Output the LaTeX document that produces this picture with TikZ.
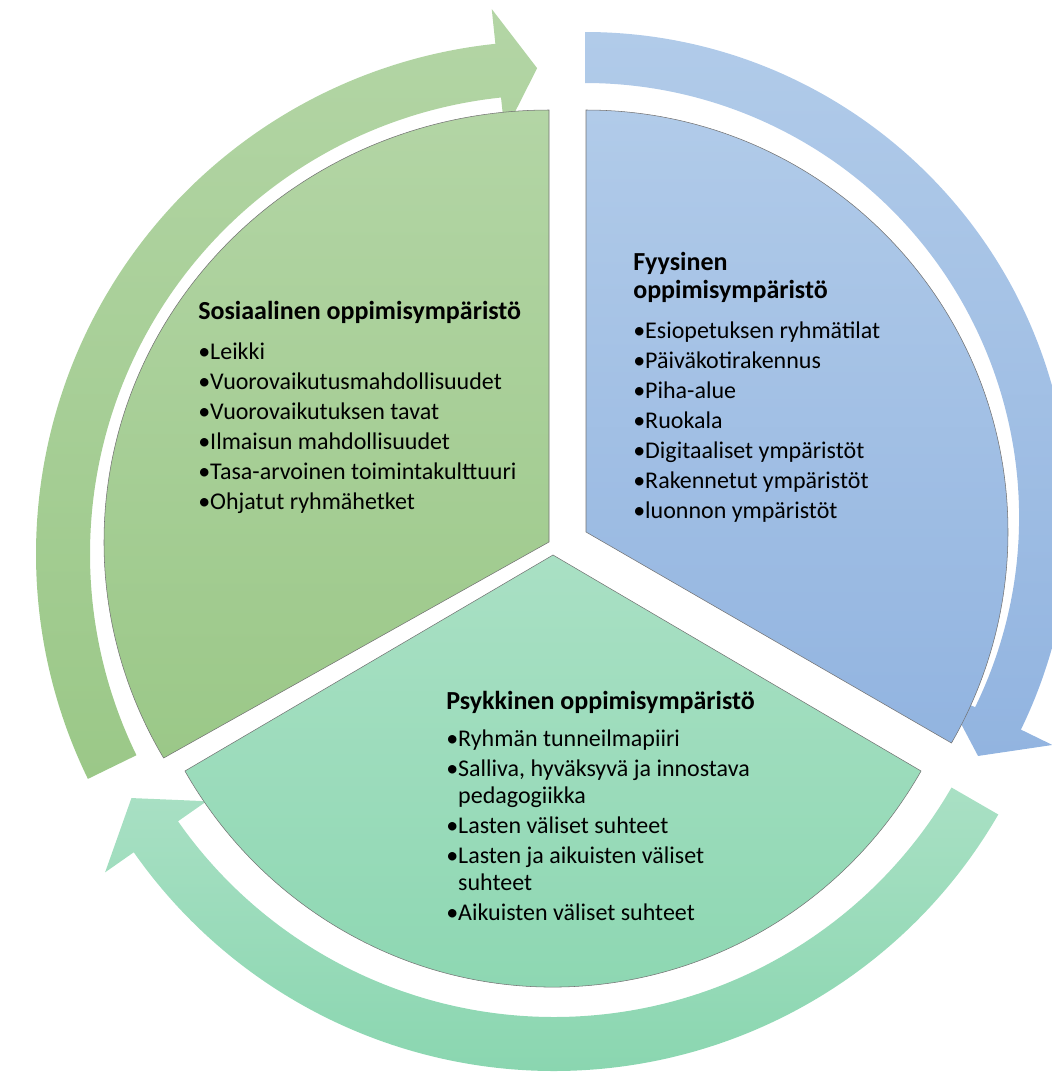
\documentclass[tikz,border=0pt]{standalone}
\usepackage{fontspec}
\setmainfont{Carlito}
\usetikzlibrary{positioning}

\definecolor{sosTop}{HTML}{B3D5A5}
\definecolor{sosBot}{HTML}{9BC888}
\definecolor{fyyTop}{HTML}{B1CBE9}
\definecolor{fyyBot}{HTML}{92B4E0}
\definecolor{psyTop}{HTML}{A9E0C4}
\definecolor{psyBot}{HTML}{8AD6B0}

\newcommand{\heading}[1]{{\fontsize{19.5pt}{20pt}\selectfont\bfseries #1}}

\begin{document}
\begin{tikzpicture}[
    x=0.75pt, y=-0.75pt,
    segment/.style={draw=black!55, line width=0.4pt},
    ringarrow/.style={draw=none},
    itemlist/.style={align=left, inner sep=0pt, anchor=north west, font=\fontsize{18pt}{20pt}\selectfont},
]
\useasboundingbox (0,0) rectangle (1051,1072);

% Draw the arrows round the circle
\begin{scope}[shift={(549,554)}]
\path[ringarrow, top color=sosTop, bottom color=sosBot]
    (154:513) arc[start angle=154, end angle=264, radius=513] -- (264:548) -- (268.6:486)
    -- (264:424) -- (264:459) arc[start angle=264, end angle=154, radius=459] -- cycle;
\end{scope}
\begin{scope}[shift={(585,517)}]
\path[ringarrow, top color=fyyTop, bottom color=fyyBot]
    (270:485) arc[start angle=270, end angle=386, radius=485] -- (386:520) -- (391.3:460)
    -- (386:400) -- (386:434) arc[start angle=386, end angle=270, radius=434] -- cycle;
\end{scope}
\begin{scope}[shift={(554,558)}]
\path[ringarrow, top color=psyTop, bottom color=psyBot]
    (30:513) arc[start angle=30, end angle=145, radius=513] -- (145:548) -- (150.4:486)
    -- (145:424) -- (145:459) arc[start angle=145, end angle=30, radius=459] -- cycle;
\end{scope}

% Draw the segments
\path[segment, top color=sosTop, bottom color=sosBot] (549,542) -- +(270:445 and 432)
    arc[start angle=270, end angle=150, x radius=445, y radius=432] -- cycle;
\path[segment, top color=fyyTop, bottom color=fyyBot] (586,532) -- +(270:422)
    arc[start angle=270, end angle=390, radius=422] -- cycle;
\path[segment, top color=psyTop, bottom color=psyBot] (553,555) -- +(30:425 and 432)
    arc[start angle=30, end angle=150, x radius=425, y radius=432] -- cycle;

% Texts
\node[itemlist] (sosiaalinen) at (198,301) {\heading{Sosiaalinen oppimisympäristö}\\[10pt]
    •Leikki\\[2.5pt]
    •Vuorovaikutusmahdollisuudet\\[2.5pt]
    •Vuorovaikutuksen tavat\\[2.5pt]
    •Ilmaisun mahdollisuudet\\[2.5pt]
    •Tasa-arvoinen toimintakulttuuri\\[2.5pt]
    •Ohjatut ryhmähetket};
\node[itemlist] (fyysinen) at (633,252) {\heading{Fyysinen}\\[1pt]
    \heading{oppimisympäristö}\\[10pt]
    •Esiopetuksen ryhmätilat\\[2.5pt]
    •Päiväkotirakennus\\[2.5pt]
    •Piha-alue\\[2.5pt]
    •Ruokala\\[2.5pt]
    •Digitaaliset ympäristöt\\[2.5pt]
    •Rakennetut ympäristöt\\[2.5pt]
    •luonnon ympäristöt};
\node[itemlist] (psykkinen) at (446,691) {\heading{Psykkinen oppimisympäristö}\\[8pt]
    •Ryhmän tunneilmapiiri\\[2.5pt]
    •Salliva, hyväksyvä ja innostava\\
    \hphantom{•}pedagogiikka\\[2.5pt]
    •Lasten väliset suhteet\\[2.5pt]
    •Lasten ja aikuisten väliset\\
    \hphantom{•}suhteet\\[2.5pt]
    •Aikuisten väliset suhteet};

\end{tikzpicture}
\end{document}
